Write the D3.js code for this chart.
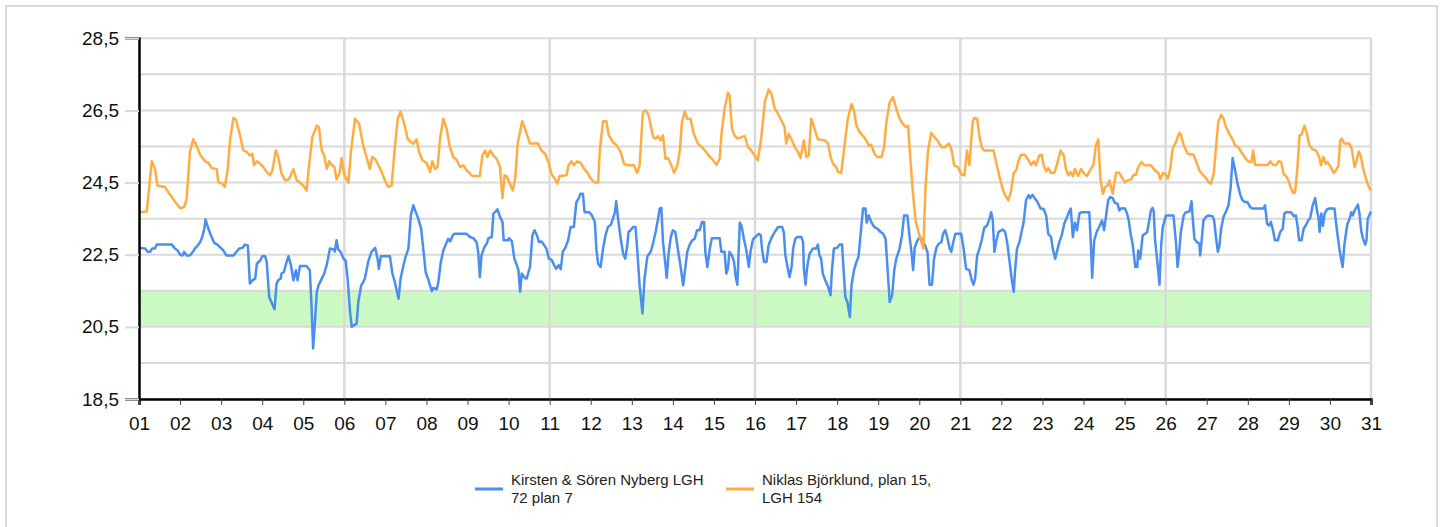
<!DOCTYPE html>
<html>
<head>
<meta charset="utf-8">
<script src="https://cdn.jsdelivr.net/npm/d3@7"></script>
<style>
  body { margin: 0; background: #fff; }
  svg { display: block; font-family: Arial, "Liberation Sans", sans-serif; }
</style>
</head>
<body>
<div id="chart"></div>
<script>
// day labels along the bottom
const dayTicks = d3.range(1, 32);
const dayLabels = dayTicks.map(d => (d < 10 ? "0" : "") + d);
const dayGrid = [6, 11, 16, 21, 26, 31];

// temperature axis
const tempTicks = [18.5, 20.5, 22.5, 24.5, 26.5, 28.5];
const tempLabels = ["18,5", "20,5", "22,5", "24,5", "26,5", "28,5"];
const tempGrid = [18.5, 19.5, 20.5, 21.5, 22.5, 23.5, 24.5, 25.5, 26.5, 27.5, 28.5];
const comfortBand = [20.5, 21.5];

const seriesNames = [
  ["Kirsten & Sören Nyberg LGH", "72 plan 7"],
  ["Niklas Björklund, plan 15,", "LGH 154"]
];
const seriesColors = ["#4a8ef0", "#ffad42"];

// [day, °C]
const nybergTemps = [
[1.00,22.69],[1.15,22.67],[1.21,22.58],[1.27,22.58],[1.32,22.67],[1.39,22.67],[1.43,22.78],[1.80,22.78],[1.86,22.69],[1.94,22.62],[2.00,22.50],[2.06,22.48],[2.10,22.58],[2.16,22.48],[2.24,22.48],[2.30,22.56],[2.36,22.67],[2.43,22.76],[2.49,22.85],[2.54,22.99],[2.59,23.22],[2.62,23.48],[2.69,23.22],[2.75,23.04],[2.83,22.83],[2.91,22.78],[2.99,22.69],[3.05,22.62],[3.13,22.48],[3.30,22.48],[3.38,22.59],[3.44,22.67],[3.52,22.69],[3.58,22.78],[3.65,22.76],[3.70,21.70],[3.76,21.79],[3.83,21.84],[3.87,22.25],[3.95,22.34],[4.00,22.46],[4.07,22.46],[4.11,22.30],[4.17,21.33],[4.23,21.17],[4.30,20.99],[4.35,21.70],[4.39,21.79],[4.45,21.84],[4.47,21.98],[4.53,22.02],[4.57,22.21],[4.64,22.46],[4.70,22.21],[4.76,21.79],[4.82,22.07],[4.86,21.79],[4.92,22.19],[5.08,22.19],[5.16,22.07],[5.20,21.10],[5.24,19.90],[5.29,20.73],[5.33,21.47],[5.37,21.65],[5.43,21.79],[5.51,21.98],[5.57,22.21],[5.65,22.67],[5.73,22.65],[5.77,22.59],[5.81,22.90],[5.85,22.65],[5.91,22.58],[5.98,22.39],[6.03,22.34],[6.08,21.84],[6.14,20.91],[6.18,20.50],[6.24,20.55],[6.30,20.59],[6.34,21.19],[6.41,21.65],[6.46,21.74],[6.50,21.84],[6.58,22.30],[6.66,22.58],[6.75,22.69],[6.81,22.39],[6.84,22.11],[6.89,22.46],[7.11,22.46],[7.17,21.98],[7.23,21.74],[7.32,21.28],[7.37,21.84],[7.44,22.21],[7.49,22.44],[7.56,22.67],[7.62,23.59],[7.68,23.87],[7.74,23.68],[7.80,23.50],[7.87,23.22],[7.93,22.58],[7.98,22.02],[8.05,21.79],[8.13,21.49],[8.17,21.58],[8.25,21.54],[8.29,21.74],[8.35,22.30],[8.41,22.62],[8.47,22.78],[8.53,22.94],[8.58,22.87],[8.65,23.06],[8.69,23.08],[8.98,23.08],[9.06,22.99],[9.14,22.96],[9.22,22.85],[9.26,22.58],[9.30,21.88],[9.34,22.48],[9.41,22.71],[9.47,22.81],[9.51,22.96],[9.59,22.99],[9.63,23.64],[9.67,23.68],[9.73,23.76],[9.79,23.55],[9.85,23.41],[9.88,22.90],[9.98,22.90],[10.01,22.96],[10.08,22.87],[10.14,22.39],[10.20,22.21],[10.24,22.07],[10.28,21.47],[10.32,21.98],[10.39,21.86],[10.44,21.84],[10.52,22.16],[10.58,23.04],[10.63,23.18],[10.69,23.04],[10.74,22.85],[10.80,22.87],[10.87,22.76],[10.92,22.67],[10.98,22.39],
[11.04,22.37],[11.11,22.21],[11.16,22.11],[11.22,22.21],[11.27,22.10],[11.32,22.58],[11.38,22.69],[11.45,22.90],[11.51,23.27],[11.59,23.27],[11.65,23.96],[11.71,24.07],[11.75,24.19],[11.81,24.19],[11.85,23.68],[11.97,23.68],[12.03,23.59],[12.10,23.41],[12.14,22.62],[12.18,22.25],[12.24,22.16],[12.30,22.67],[12.36,23.04],[12.42,23.27],[12.49,23.33],[12.54,23.50],[12.59,23.68],[12.62,23.98],[12.66,23.55],[12.73,22.94],[12.79,22.53],[12.84,22.39],[12.89,22.76],[12.92,23.13],[12.97,23.18],[13.03,23.27],[13.09,23.27],[13.13,22.67],[13.19,21.65],[13.26,20.87],[13.31,21.84],[13.38,22.46],[13.46,22.58],[13.52,22.83],[13.58,23.13],[13.64,23.50],[13.68,23.78],[13.72,23.80],[13.76,22.85],[13.82,22.21],[13.85,21.86],[13.90,22.58],[13.95,22.99],[14.00,23.18],[14.06,23.13],[14.12,22.67],[14.19,22.16],[14.25,21.65],[14.30,22.11],[14.35,22.58],[14.41,22.78],[14.47,22.90],[14.53,22.94],[14.59,23.18],[14.65,23.18],[14.71,23.41],[14.76,23.41],[14.79,22.58],[14.84,22.16],[14.90,22.67],[14.95,22.96],[15.14,22.96],[15.18,22.58],[15.26,22.58],[15.30,21.98],[15.34,22.11],[15.38,22.58],[15.44,22.48],[15.49,22.30],[15.53,21.88],[15.57,21.67],[15.63,23.39],[15.67,23.31],[15.73,22.94],[15.79,22.62],[15.85,22.16],[15.89,22.58],[15.95,22.93],[16.01,22.99],[16.09,23.08],[16.14,23.04],[16.17,22.67],[16.22,22.30],[16.28,22.30],[16.33,22.76],[16.41,22.99],[16.48,23.13],[16.56,23.27],[16.66,23.27],[16.70,23.13],[16.74,22.48],[16.80,22.11],[16.84,21.88],[16.89,22.16],[16.93,22.67],[16.98,22.94],[17.03,22.99],[17.13,22.99],[17.17,22.85],[17.19,22.11],[17.23,21.67],[17.27,22.16],[17.33,22.53],[17.41,22.67],[17.49,22.67],[17.53,22.78],[17.57,22.48],[17.61,22.39],[17.65,21.98],[17.71,21.79],[17.78,21.61],[17.84,21.38],[17.87,22.02],[17.92,22.67],[18.00,22.69],[18.06,22.78],[18.12,22.78],[18.16,22.02],[18.20,21.33],[18.25,21.19],[18.31,20.77],[18.35,21.65],[18.41,22.07],[18.47,22.30],[18.52,22.44],[18.57,23.04],[18.63,23.78],[18.69,23.78],[18.72,23.39],[18.77,23.59],[18.83,23.41],[18.90,23.27],[18.98,23.22],[19.06,23.13],[19.12,23.08],[19.18,22.94],[19.23,22.07],[19.28,21.19],[19.34,21.38],[19.39,22.07],[19.44,22.39],[19.52,22.67],[19.58,23.04],[19.63,23.59],[19.71,23.59],[19.77,22.94],[19.81,22.58],[19.85,22.07],[19.89,22.71],[19.96,22.90],[20.02,22.99],[20.07,22.90],[20.14,22.76],[20.20,22.58],[20.25,21.67],[20.31,21.67],[20.36,22.39],[20.42,22.71],[20.48,22.81],[20.54,22.85],[20.58,23.08],[20.63,23.18],[20.68,22.99],[20.74,22.67],[20.78,22.58],[20.82,22.81],[20.88,23.08],[21.02,23.08],
[21.08,22.67],[21.14,22.11],[21.22,22.07],[21.28,21.79],[21.32,21.67],[21.36,21.84],[21.41,22.48],[21.46,22.65],[21.52,22.90],[21.58,23.24],[21.65,23.31],[21.71,23.50],[21.75,23.68],[21.79,23.45],[21.83,22.58],[21.87,22.85],[21.93,23.13],[22.03,23.20],[22.09,23.13],[22.14,22.85],[22.19,22.39],[22.25,21.84],[22.30,21.47],[22.33,22.02],[22.38,22.67],[22.44,22.85],[22.49,23.13],[22.54,23.39],[22.60,24.01],[22.66,24.15],[22.70,24.07],[22.76,24.16],[22.82,24.05],[22.88,23.96],[22.95,23.79],[23.03,23.76],[23.09,23.59],[23.14,23.08],[23.21,22.99],[23.25,22.67],[23.31,22.39],[23.35,22.58],[23.41,22.85],[23.47,23.04],[23.53,23.36],[23.60,23.55],[23.65,23.70],[23.69,23.78],[23.74,22.99],[23.79,23.39],[23.84,23.18],[23.90,23.64],[23.95,23.68],[24.14,23.68],[24.18,22.76],[24.21,21.86],[24.26,22.90],[24.32,23.13],[24.38,23.27],[24.45,23.45],[24.50,23.18],[24.55,23.59],[24.60,24.01],[24.65,24.10],[24.71,24.07],[24.76,23.94],[24.83,23.91],[24.87,23.73],[24.93,23.79],[25.01,23.78],[25.06,23.64],[25.10,23.45],[25.15,23.06],[25.20,22.76],[25.26,22.16],[25.31,22.16],[25.33,22.62],[25.38,22.39],[25.44,23.04],[25.50,23.08],[25.55,23.13],[25.60,23.45],[25.64,23.73],[25.68,23.80],[25.71,23.70],[25.74,22.94],[25.79,22.39],[25.85,21.67],[25.89,22.76],[25.93,23.27],[26.01,23.59],[26.19,23.59],[26.25,22.85],[26.29,22.16],[26.33,22.58],[26.37,23.13],[26.44,23.59],[26.49,23.68],[26.58,23.70],[26.63,23.98],[26.66,23.50],[26.70,22.94],[26.76,22.85],[26.82,22.81],[26.84,22.48],[26.88,22.94],[26.92,23.45],[26.98,23.55],[27.04,23.59],[27.14,23.57],[27.18,23.45],[27.23,22.94],[27.27,22.58],[27.31,22.76],[27.35,23.22],[27.41,23.55],[27.47,23.70],[27.53,23.87],[27.58,24.33],[27.63,25.18],[27.69,24.84],[27.75,24.47],[27.82,24.15],[27.87,24.01],[27.93,23.96],[27.99,23.96],[28.06,23.82],[28.11,23.78],[28.38,23.78],[28.42,23.87],[28.47,23.36],[28.52,23.31],[28.56,23.41],[28.61,23.20],[28.66,22.90],[28.73,22.90],[28.79,23.13],[28.85,23.22],[28.89,23.64],[28.93,23.68],[29.05,23.68],[29.12,23.57],[29.17,23.59],[29.21,23.31],[29.25,22.90],[29.31,22.90],[29.36,23.22],[29.42,23.33],[29.47,23.45],[29.52,23.52],[29.58,23.87],[29.64,24.07],[29.69,23.68],[29.72,23.55],[29.75,23.13],[29.79,23.64],[29.83,23.30],[29.87,23.64],[29.93,23.76],[29.99,23.78],[30.11,23.78],[30.17,23.18],[30.23,22.67],[30.27,22.39],[30.31,22.16],[30.35,22.76],[30.42,23.33],[30.48,23.50],[30.52,23.68],[30.56,23.59],[30.60,23.73],[30.64,23.80],[30.68,23.89],[30.72,23.64],[30.76,23.18],[30.80,22.96],[30.86,22.78],[30.89,22.90],[30.92,23.50],[31.00,23.70]
];

const bjorklundTemps = [
[1.00,23.68],[1.19,23.70],[1.31,25.09],[1.39,24.88],[1.45,24.42],[1.63,24.38],[1.71,24.24],[1.80,24.10],[1.88,23.96],[2.00,23.79],[2.10,23.82],[2.16,24.05],[2.24,25.35],[2.32,25.70],[2.40,25.53],[2.49,25.27],[2.61,25.09],[2.69,25.05],[2.77,24.90],[2.89,24.88],[2.93,24.51],[3.03,24.47],[3.09,24.38],[3.16,24.88],[3.22,25.72],[3.30,26.29],[3.36,26.25],[3.46,25.81],[3.54,25.39],[3.62,25.35],[3.70,25.25],[3.76,25.30],[3.80,24.98],[3.87,25.09],[3.95,25.02],[4.03,24.93],[4.11,24.79],[4.19,24.70],[4.25,24.84],[4.33,25.39],[4.39,25.21],[4.47,24.75],[4.56,24.56],[4.65,24.59],[4.76,24.87],[4.84,24.56],[4.92,24.50],[5.00,24.42],[5.08,24.28],[5.14,24.98],[5.22,25.76],[5.33,26.08],[5.38,26.04],[5.45,25.39],[5.51,25.25],[5.57,24.88],[5.63,25.09],[5.69,24.99],[5.76,24.93],[5.81,24.59],[5.88,24.75],[5.93,25.18],[6.00,24.72],[6.10,24.50],[6.16,25.35],[6.26,26.27],[6.36,26.13],[6.46,25.53],[6.54,25.21],[6.62,24.88],[6.68,25.21],[6.76,25.14],[6.83,24.98],[6.91,24.79],[6.99,24.56],[7.07,24.38],[7.15,24.42],[7.22,25.35],[7.30,26.27],[7.37,26.47],[7.46,26.13],[7.54,25.72],[7.62,25.62],[7.68,25.58],[7.76,25.70],[7.82,25.35],[7.90,25.12],[8.00,25.05],[8.09,24.79],[8.14,25.09],[8.21,24.88],[8.27,24.93],[8.33,25.72],[8.41,26.27],[8.49,25.99],[8.57,25.48],[8.65,25.21],[8.74,25.12],[8.82,24.93],[8.90,24.98],[8.98,24.84],[9.06,24.75],[9.12,24.68],[9.30,24.68],[9.36,25.25],[9.43,25.39],[9.48,25.21],[9.55,25.39],[9.63,25.25],[9.71,25.16],[9.79,24.93],[9.85,24.07],[9.90,24.70],[9.95,24.68],[10.03,24.47],[10.10,24.28],[10.16,24.61],[10.22,25.58],[10.33,26.20],[10.40,25.99],[10.48,25.72],[10.52,25.58],[10.72,25.58],[10.80,25.39],[10.89,25.30],[10.97,25.07],
[11.04,24.75],[11.12,24.61],[11.19,24.47],[11.24,24.68],[11.41,24.70],[11.46,24.98],[11.53,25.09],[11.59,24.98],[11.67,25.09],[11.75,25.05],[11.84,24.88],[11.92,24.77],[12.00,24.61],[12.10,24.50],[12.18,24.50],[12.22,25.39],[12.30,26.20],[12.38,26.20],[12.44,25.81],[12.54,25.62],[12.62,25.55],[12.73,25.35],[12.81,25.02],[12.89,24.98],[13.05,24.98],[13.13,24.77],[13.19,24.98],[13.27,26.45],[13.34,26.50],[13.41,26.36],[13.52,25.76],[13.58,25.72],[13.64,25.79],[13.70,25.67],[13.76,25.81],[13.82,25.16],[13.88,25.18],[13.95,25.02],[14.03,24.77],[14.11,24.98],[14.17,25.39],[14.22,26.18],[14.29,26.47],[14.35,26.27],[14.43,26.27],[14.51,25.85],[14.61,25.58],[14.71,25.48],[14.81,25.35],[14.90,25.21],[14.98,25.12],[15.06,24.99],[15.14,25.16],[15.18,25.81],[15.26,26.55],[15.34,26.99],[15.38,26.92],[15.44,25.99],[15.50,25.81],[15.57,25.72],[15.67,25.76],[15.75,25.79],[15.83,25.48],[15.91,25.39],[15.99,25.25],[16.07,25.12],[16.15,25.72],[16.24,26.73],[16.33,27.08],[16.40,26.96],[16.48,26.55],[16.56,26.41],[16.66,26.18],[16.72,26.04],[16.76,25.58],[16.82,25.85],[16.90,25.67],[16.97,25.48],[17.05,25.35],[17.11,25.18],[17.19,25.67],[17.25,25.21],[17.31,25.25],[17.37,26.27],[17.45,25.99],[17.53,25.70],[17.70,25.67],[17.78,25.58],[17.84,25.21],[17.90,25.02],[17.98,24.93],[18.02,24.79],[18.10,24.77],[18.18,25.53],[18.26,26.27],[18.35,26.68],[18.41,26.50],[18.47,26.08],[18.55,25.90],[18.63,25.79],[18.71,25.67],[18.77,25.53],[18.83,25.55],[18.91,25.30],[18.98,25.21],[19.08,25.21],[19.14,25.46],[19.20,26.18],[19.28,26.73],[19.36,26.87],[19.44,26.55],[19.52,26.27],[19.60,26.13],[19.68,26.04],[19.73,26.07],[19.77,25.35],[19.85,24.15],[19.91,23.45],[19.98,23.13],[20.04,22.90],[20.10,22.67],[20.15,24.33],[20.21,25.35],[20.29,25.88],[20.37,25.76],[20.44,25.67],[20.54,25.48],[20.62,25.48],[20.72,25.58],[20.78,25.44],[20.85,24.98],[20.94,24.93],
[21.03,24.72],[21.10,24.70],[21.16,25.39],[21.22,24.99],[21.30,26.18],[21.34,26.29],[21.41,26.27],[21.46,25.81],[21.52,25.48],[21.58,25.39],[21.81,25.39],[21.87,25.07],[21.95,24.68],[22.03,24.33],[22.09,24.15],[22.17,24.01],[22.23,24.24],[22.30,24.77],[22.36,24.84],[22.42,25.12],[22.48,25.27],[22.57,25.27],[22.66,25.12],[22.72,24.99],[22.79,25.09],[22.84,24.98],[22.92,25.25],[22.98,25.27],[23.03,24.98],[23.09,24.81],[23.14,24.90],[23.21,24.77],[23.29,24.77],[23.35,24.99],[23.44,25.39],[23.52,25.25],[23.57,24.88],[23.63,24.70],[23.69,24.79],[23.74,24.68],[23.79,24.88],[23.87,24.68],[23.94,24.88],[24.00,24.77],[24.08,24.68],[24.18,24.88],[24.24,24.98],[24.30,25.53],[24.36,25.70],[24.41,24.61],[24.47,24.19],[24.53,24.38],[24.59,24.42],[24.63,24.56],[24.71,24.19],[24.79,24.77],[24.87,24.77],[24.95,24.61],[25.01,24.50],[25.07,24.56],[25.16,24.59],[25.22,24.72],[25.28,24.72],[25.33,24.93],[25.41,25.07],[25.48,24.98],[25.64,24.98],[25.71,24.88],[25.76,24.81],[25.82,24.77],[25.87,24.59],[25.93,24.77],[25.98,24.75],[26.05,24.61],[26.11,24.88],[26.17,25.44],[26.25,25.62],[26.33,25.88],[26.37,25.83],[26.44,25.53],[26.54,25.30],[26.68,25.27],[26.74,25.09],[26.82,24.84],[26.90,24.72],[26.98,24.63],[27.04,24.51],[27.10,24.47],[27.17,24.75],[27.23,25.53],[27.28,26.18],[27.35,26.38],[27.41,26.27],[27.47,26.04],[27.55,25.85],[27.64,25.67],[27.69,25.53],[27.77,25.48],[27.84,25.35],[27.90,25.25],[27.98,25.12],[28.04,25.07],[28.09,25.07],[28.13,25.39],[28.18,24.99],[28.48,24.99],[28.55,25.09],[28.61,24.99],[28.69,24.99],[28.75,25.09],[28.81,25.07],[28.87,24.75],[28.93,24.68],[28.99,24.56],[29.04,24.38],[29.10,24.22],[29.15,24.22],[29.20,24.79],[29.26,25.81],[29.31,25.83],[29.38,26.08],[29.44,25.85],[29.50,25.53],[29.58,25.42],[29.66,25.39],[29.74,25.21],[29.78,24.98],[29.84,25.21],[29.90,25.02],[29.94,25.07],[30.02,24.93],[30.09,24.77],[30.15,24.84],[30.21,24.98],[30.25,25.67],[30.29,25.72],[30.35,25.58],[30.47,25.58],[30.53,25.44],[30.60,24.93],[30.64,25.07],[30.70,25.36],[30.75,25.25],[30.80,24.93],[30.86,24.68],[30.93,24.42],[31.00,24.28]
];

const width = 1443, height = 527;
const margin = { top: 38.3, right: 72, bottom: 128, left: 139 };
const innerW = width - margin.left - margin.right;
const innerH = height - margin.top - margin.bottom;

const svg = d3.select("#chart")
    .append("svg")
    .attr("width", width)
    .attr("height", height);

// outer frame
svg.append("rect")
    .attr("x", 6).attr("y", 6)
    .attr("width", 1431).attr("height", 540)
    .attr("fill", "none")
    .attr("stroke", "#dadada")
    .attr("stroke-width", 2);

const g = svg.append("g")
    .attr("transform", `translate(${margin.left},${margin.top})`);

const x = d3.scaleLinear().domain([1, 31]).range([0, innerW]);
const y = d3.scaleLinear().domain([18.5, 28.5]).range([innerH, 0]);

// green comfort band
g.append("rect")
    .attr("x", 0)
    .attr("y", y(comfortBand[1]))
    .attr("width", innerW)
    .attr("height", y(comfortBand[0]) - y(comfortBand[1]))
    .attr("fill", "#cbf8c3");

// grid
g.selectAll(".hgrid")
    .data(tempGrid)
    .enter().append("line")
    .attr("class", "hgrid")
    .attr("x1", 0).attr("x2", innerW)
    .attr("y1", d => y(d)).attr("y2", d => y(d))
    .attr("stroke", "#dadada")
    .attr("stroke-width", 2);

g.selectAll(".vgrid")
    .data(dayGrid)
    .enter().append("line")
    .attr("class", "vgrid")
    .attr("x1", d => x(d)).attr("x2", d => x(d))
    .attr("y1", 0).attr("y2", innerH)
    .attr("stroke", "#dadada")
    .attr("stroke-width", 2.5);

// lines
const line = d3.line()
    .x(d => x(d[0]))
    .y(d => y(d[1]));

[nybergTemps, bjorklundTemps].forEach((series, i) => {
    g.append("path")
        .datum(series)
        .attr("fill", "none")
        .attr("stroke", seriesColors[i])
        .attr("stroke-width", 2.5)
        .attr("stroke-linejoin", "round")
        .attr("d", line);
});

// axes
const xAxis = d3.axisBottom(x)
    .tickValues(dayTicks)
    .tickFormat((d, i) => dayLabels[i])
    .tickSize(6)
    .tickPadding(12);

const yAxis = d3.axisLeft(y)
    .tickValues(tempTicks)
    .tickFormat((d, i) => tempLabels[i])
    .tickSize(14)
    .tickPadding(6);

const gx = g.append("g")
    .attr("transform", `translate(0,${innerH})`)
    .call(xAxis);
gx.select(".domain").attr("stroke", "#000").attr("stroke-width", 2.5);
gx.selectAll(".tick line").attr("stroke", "#444").attr("stroke-width", 1);
gx.selectAll(".tick text")
    .attr("font-size", 19)
    .attr("font-family", "Arial, 'Liberation Sans', sans-serif")
    .attr("fill", "#111");

const gy = g.append("g").call(yAxis);
gy.select(".domain").attr("stroke", "#000").attr("stroke-width", 2.5);
gy.selectAll(".tick line").attr("stroke", "#dadada").attr("stroke-width", 2);
gy.selectAll(".tick text")
    .attr("font-size", 19)
    .attr("font-family", "Arial, 'Liberation Sans', sans-serif")
    .attr("fill", "#111");

// legend
const legendX = [475, 726];
const legend = svg.append("g");
seriesNames.forEach((name, i) => {
    legend.append("line")
        .attr("x1", legendX[i]).attr("x2", legendX[i] + 28)
        .attr("y1", 489).attr("y2", 489)
        .attr("stroke", seriesColors[i])
        .attr("stroke-width", 3);
    const t = legend.append("text")
        .attr("x", legendX[i] + 36)
        .attr("y", 485)
        .attr("font-size", 15)
        .attr("fill", "#222");
    name.forEach((part, j) => {
        t.append("tspan")
            .attr("x", legendX[i] + 36)
            .attr("dy", j === 0 ? 0 : 18)
            .text(part);
    });
});
</script>
</body>
</html>
